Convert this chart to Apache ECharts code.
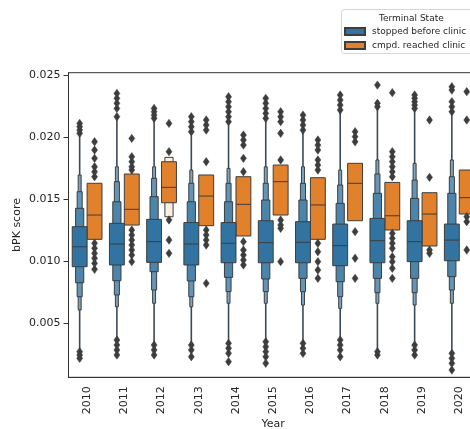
<!DOCTYPE html>
<html>
<head>
<meta charset="utf-8">
<script src="https://cdn.jsdelivr.net/npm/echarts@6/dist/echarts.min.js"></script>
<style>
  html, body { margin: 0; padding: 0; background: #fff; }
  #chart { width: 470px; height: 429px; }
</style>
</head>
<body>
<div id="chart"></div>
<script>
// Categories
const years = ['2010','2011','2012','2013','2014','2015','2016','2017','2018','2019','2020'];
const yTicks = [0.005, 0.010, 0.015, 0.020, 0.025];
const seriesNames = ['stopped before clinic', 'cmpd. reached clinic'];

// "stopped before clinic": medians, nested letter-value ranges (quartiles outward), outliers
const stoppedMedian = [0.01115, 0.01137, 0.01156, 0.01137, 0.01143, 0.01148, 0.01151, 0.01124, 0.01164, 0.01156, 0.01169];
const stoppedLevels = [
  [[0.00954,0.01277],[0.00825,0.01425],[0.00712,0.01559],[0.00605,0.01694]],
  [[0.00968,0.01304],[0.00841,0.01478],[0.00726,0.01640],[0.00631,0.01760]],
  [[0.00989,0.01336],[0.00914,0.01519],[0.00766,0.01667],[0.00659,0.01760]],
  [[0.00968,0.01310],[0.00839,0.01478],[0.00712,0.01627],[0.00631,0.01734]],
  [[0.00986,0.01310],[0.00868,0.01478],[0.00753,0.01627],[0.00659,0.01747]],
  [[0.00986,0.01325],[0.00855,0.01492],[0.00753,0.01627],[0.00659,0.01760]],
  [[0.00986,0.01317],[0.00860,0.01492],[0.00753,0.01627],[0.00645,0.01760]],
  [[0.00962,0.01298],[0.00833,0.01465],[0.00712,0.01613],[0.00618,0.01734]],
  [[0.00986,0.01344],[0.00860,0.01546],[0.00745,0.01702],[0.00659,0.01815]],
  [[0.00995,0.01325],[0.00860,0.01505],[0.00745,0.01653],[0.00645,0.01788]],
  [[0.01002,0.01298],[0.00874,0.01546],[0.00766,0.01680],[0.00659,0.01815]]
];
const stoppedHigh = [
  [0.02030,0.02056,0.02083,0.02110],
  [0.02164,0.02231,0.02272,0.02312,0.02352],
  [0.02151,0.02177,0.02204,0.02231],
  [0.02043,0.02083,0.02124,0.02164],
  [0.02124,0.02164,0.02204,0.02244,0.02285,0.02325],
  [0.02151,0.02191,0.02231,0.02272,0.02312],
  [0.02056,0.02097,0.02137,0.02177],
  [0.02218,0.02258,0.02298,0.02339],
  [0.02244,0.02272,0.02419],
  [0.02231,0.02258,0.02285,0.02312,0.02339],
  [0.02204,0.02244,0.02285,0.02379,0.02406]
];
const stoppedLow = [
  [0.00215,0.00242,0.00269],
  [0.00242,0.00282,0.00322,0.00363],
  [0.00242,0.00282,0.00322],
  [0.00228,0.00282,0.00322],
  [0.00188,0.00255,0.00296,0.00336],
  [0.00175,0.00228,0.00269,0.00309,0.00349],
  [0.00255,0.00296,0.00336],
  [0.00228,0.00282,0.00322,0.00363],
  [0.00242,0.00269],
  [0.00242,0.00282,0.00322],
  [0.00121,0.00175,0.00215,0.00255]
];

// "cmpd. reached clinic"
const reachedMedian = [0.01371, 0.01417, 0.01594, 0.01524, 0.01457, 0.01640, 0.01452, 0.01627, 0.01365, 0.01379, 0.01511];
const reachedLevels = [
  [[0.01175,0.01627]],
  [[0.01290,0.01702]],
  [[0.01470,0.01801],[0.01357,0.01836]],
  [[0.01285,0.01694]],
  [[0.01202,0.01680]],
  [[0.01371,0.01774]],
  [[0.01175,0.01672]],
  [[0.01325,0.01788]],
  [[0.01250,0.01634]],
  [[0.01121,0.01551]],
  [[0.01379,0.01734]]
];
const reachedHigh = [
  [0.01680,0.01720,0.01760,0.01828,0.01895,0.01962],
  [0.01734,0.01760,0.01801,0.01841,0.01989],
  [0.01882,0.02110],
  [0.01801,0.02056,0.02097,0.02137],
  [0.01720,0.01828,0.01935,0.01976,0.02016],
  [0.01815,0.02030,0.02124,0.02164,0.02204],
  [0.01734,0.01774,0.01815,0.01895,0.01935,0.01976],
  [0.01962,0.02003,0.02043],
  [0.01680,0.01720,0.01760,0.01801,0.01841,0.01882,0.02358],
  [0.01675,0.02137],
  [0.02137,0.02366]
];
const reachedLow = [
  [0.00933,0.00981,0.01022,0.01062,0.01102,0.01143],
  [0.00995,0.01048,0.01089,0.01129,0.01169,0.01210,0.01250],
  [0.01062,0.01169,0.01331],
  [0.00820,0.01129,0.01169,0.01210,0.01250],
  [0.00968,0.01008,0.01048,0.01089,0.01156],
  [0.00995,0.01264,0.01290,0.01331],
  [0.00860,0.00927,0.00995,0.01075,0.01143],
  [0.00860,0.01022,0.01237],
  [0.00860,0.00941,0.00995,0.01035,0.01102,0.01143,0.01183,0.01223],
  [0.01062,0.01089],
  [0.01089,0.01317,0.01357]
];

const EDGE = '#3d3d3d';
const FONT = 'DejaVu Sans';
const blueShades = ['#3274a1', '#4b85ac', '#6395b8', '#7ca6c3'];
const orangeShades = ['#e1812c', '#fbeee2'];
const levelWidths = [1, 0.55, 0.34, 0.2];

function diamond(x, y) {
  return {
    type: 'polygon',
    shape: { points: [[x, y - 4.2], [x + 3, y], [x, y + 4.2], [x - 3, y]] },
    style: { fill: EDGE, stroke: EDGE, lineWidth: 0.5 },
    z2: 30
  };
}

// Letter-value (boxen) glyph for one category of one hue
function boxenRenderer(side, medians, levels, highs, lows, shades, withTail) {
  return function (params, api) {
    const i = api.value(0);
    const band = api.size([1, 0])[0];
    const cx = api.coord([i, 0])[0] + side * band * 0.2;
    const full = band * 0.4;
    const y = v => api.coord([i, v])[1];
    const children = [];
    const lv = levels[i];
    if (withTail) {
      const top = Math.min.apply(null, highs[i]);
      const bot = Math.max.apply(null, lows[i]);
      const outer = lv[lv.length - 1];
      children.push({ type: 'line', shape: { x1: cx, y1: y(top), x2: cx, y2: y(outer[1]) },
        style: { stroke: '#3b4a57', lineWidth: 1.6 }, z2: 1 });
      children.push({ type: 'line', shape: { x1: cx, y1: y(outer[0]), x2: cx, y2: y(bot) },
        style: { stroke: '#3b4a57', lineWidth: 1.6 }, z2: 1 });
    }
    for (let k = lv.length - 1; k >= 0; k--) {
      const w = full * levelWidths[k];
      const y1 = y(lv[k][1]), y0 = y(lv[k][0]);
      children.push({
        type: 'rect',
        shape: { x: cx - w / 2, y: y1, width: w, height: y0 - y1 },
        style: { fill: shades[k], stroke: EDGE, lineWidth: 1 },
        z2: 10 + (lv.length - k)
      });
    }
    const ym = y(medians[i]);
    children.push({ type: 'line', shape: { x1: cx - full / 2, y1: ym, x2: cx + full / 2, y2: ym },
      style: { stroke: EDGE, lineWidth: 1 }, z2: 25 });
    highs[i].forEach(v => children.push(diamond(cx, y(v))));
    lows[i].forEach(v => children.push(diamond(cx, y(v))));
    return { type: 'group', children: children };
  };
}

const chart = echarts.init(document.getElementById('chart'), null, { renderer: 'canvas' });
chart.setOption({
  animation: false,
  backgroundColor: '#ffffff',
  textStyle: { fontFamily: FONT },
  title: {
    text: 'Terminal State',
    left: 374, top: 9,
    textStyle: { fontFamily: FONT, fontSize: 9, fontWeight: 'normal', color: '#262626' }
  },
  // legend frame runs past the right edge of the canvas
  graphic: [{
    type: 'rect',
    shape: { x: 341.5, y: 9.5, width: 160, height: 44, r: 3 },
    style: { fill: 'rgba(255,255,255,0.85)', stroke: '#d6d6d6', lineWidth: 1 },
    z: 0
  }],
  legend: {
    data: seriesNames,
    orient: 'vertical',
    left: 341, top: 9,
    padding: [18, 4, 5, 3],
    itemGap: 5,
    itemWidth: 20, itemHeight: 7,
    icon: 'rect',
    borderWidth: 0,
    backgroundColor: 'transparent',
    textStyle: { fontFamily: FONT, fontSize: 9, color: '#262626', padding: [0, 0, 0, 2] }
  },
  grid: {
    left: 68.5, top: 72.7, width: 409.4, height: 304.6,
    outerBoundsMode: 'none',
    containLabel: false,
    show: true, borderColor: '#333', borderWidth: 1, backgroundColor: 'transparent'
  },
  xAxis: {
    type: 'category',
    data: years,
    boundaryGap: true,
    name: 'Year',
    nameLocation: 'middle',
    nameGap: 41,
    nameMoveOverlap: false,
    nameTextStyle: { fontFamily: FONT, fontSize: 11, color: '#262626' },
    axisLine: { lineStyle: { color: '#333', width: 1 } },
    axisTick: { alignWithLabel: true, length: 5, lineStyle: { color: '#333' } },
    axisLabel: { rotate: 90, interval: 0, margin: 9, fontFamily: FONT, fontSize: 11, color: '#262626' },
    splitLine: { show: false }
  },
  yAxis: {
    type: 'value',
    min: 0.00062, max: 0.02519,
    name: 'bPK score',
    nameLocation: 'middle',
    nameGap: 46,
    nameMoveOverlap: false,
    nameTextStyle: { fontFamily: FONT, fontSize: 11, color: '#262626' },
    axisLine: { show: true, lineStyle: { color: '#333', width: 1 } },
    axisTick: { show: true, length: 5, customValues: yTicks, lineStyle: { color: '#333' } },
    axisLabel: { customValues: yTicks, margin: 8, fontFamily: FONT, fontSize: 11, color: '#262626',
      formatter: v => v.toFixed(3) },
    splitLine: { show: false }
  },
  series: [
    {
      name: seriesNames[0],
      type: 'custom',
      renderItem: boxenRenderer(-1, stoppedMedian, stoppedLevels, stoppedHigh, stoppedLow, blueShades, true),
      itemStyle: { color: '#3274a1', borderColor: EDGE, borderWidth: 1 },
      encode: { x: 0, y: 1 },
      data: years.map((y, i) => [i, stoppedMedian[i]])
    },
    {
      name: seriesNames[1],
      type: 'custom',
      renderItem: boxenRenderer(1, reachedMedian, reachedLevels, reachedHigh, reachedLow, orangeShades, false),
      itemStyle: { color: '#e1812c', borderColor: EDGE, borderWidth: 1 },
      encode: { x: 0, y: 1 },
      data: years.map((y, i) => [i, reachedMedian[i]])
    }
  ]
});
</script>
</body>
</html>
